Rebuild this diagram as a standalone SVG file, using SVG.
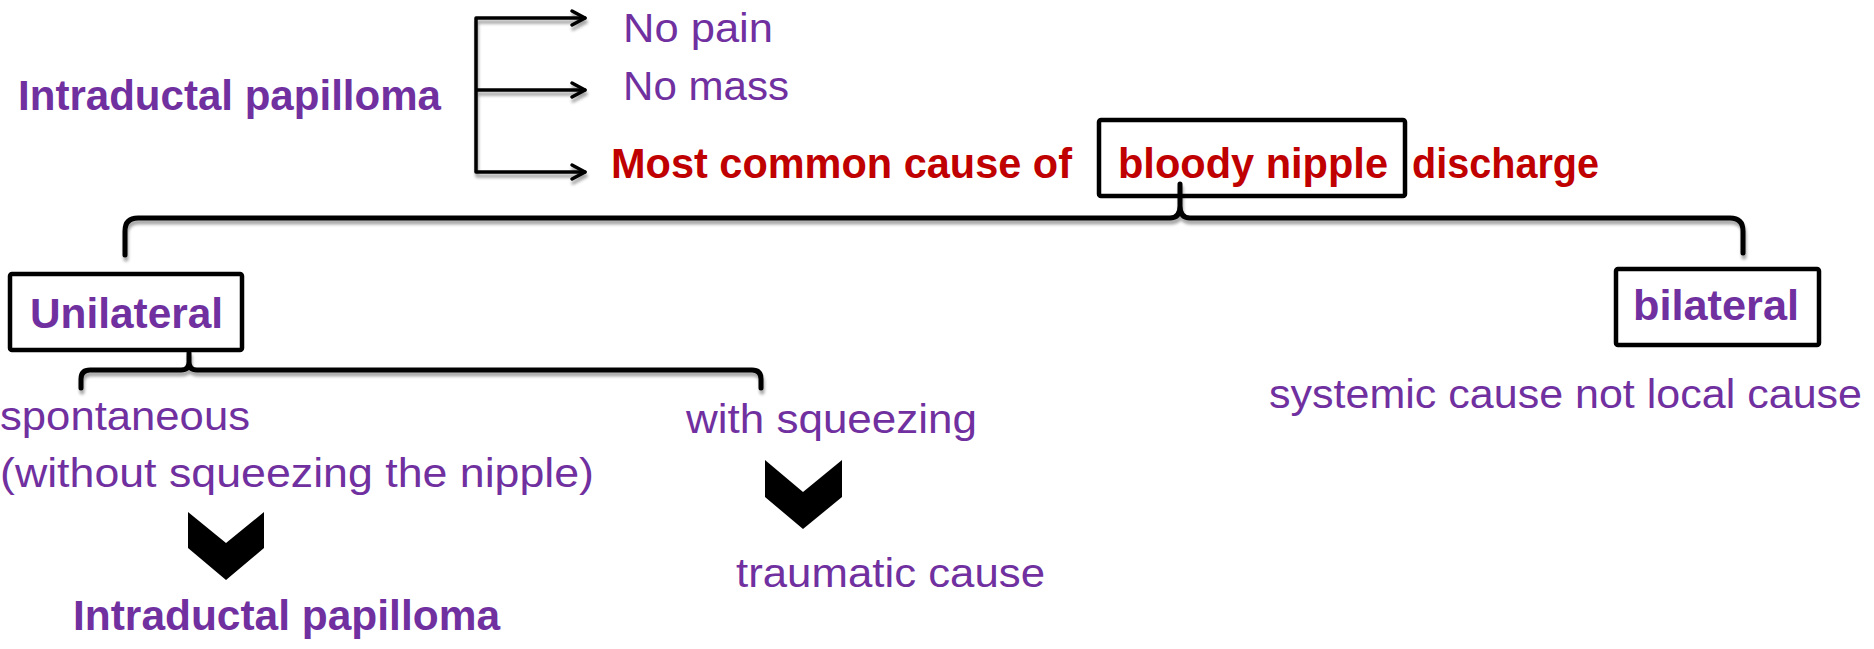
<svg xmlns="http://www.w3.org/2000/svg" width="1874" height="649" viewBox="0 0 1874 649">
<defs>
<style>
.b{font-family:"Liberation Sans",Arial,sans-serif;font-weight:bold;font-size:42px}
.r{font-family:"Liberation Sans",Arial,sans-serif;font-size:41px}
.pu{fill:#7030A0}
.rd{fill:#C00000}
.box{fill:none;stroke:#000;stroke-width:4.5}
.ln{fill:none;stroke:#000;stroke-linecap:round;stroke-linejoin:round}
.chev{fill:#000}
</style>
<filter id="sh" x="-5%" y="-50%" width="110%" height="200%">
<feDropShadow dx="1" dy="4" stdDeviation="1.5" flood-color="#000" flood-opacity="0.35"/>
</filter>
</defs>
<rect width="1874" height="649" fill="#fff"/>

<g id="connectors">
<g filter="url(#sh)">
<path class="ln" stroke-width="3.5" d="M585,18 L476,18 L476,172 L585,172 M476,90 L585,90"/>
<path class="ln" stroke-width="3.5" d="M572,11 L585,18 L572,25 M572,83 L585,90 L572,97 M572,165 L585,172 L572,179"/>
<path class="ln" stroke-width="5" d="M125,255 L125,231 Q125,218 138,218 L1170,218 Q1180,218 1180,206 L1180,184 M1180,206 Q1180,218 1190,218 L1730,218 Q1743,218 1743,231 L1743,253"/>
<path class="ln" stroke-width="5" d="M81,388 L81,379 Q81,370 90,370 L181,370 Q189,370 189,362 L189,353 M189,362 Q189,370 197,370 L752,370 Q761,370 761,379 L761,388"/>
</g>
<polygon class="chev" points="188,512 226,543 264,512 264,548 226,580 188,548"/>
<polygon class="chev" points="765,460 803,492 842,460 842,497 803,529 765,497"/>
</g>

<g id="n-intraductal-top"><text class="b pu" x="18" y="110" textLength="423" lengthAdjust="spacingAndGlyphs">Intraductal papilloma</text></g>
<g id="n-no-pain"><text class="r pu" x="623" y="42" textLength="150" lengthAdjust="spacingAndGlyphs">No pain</text></g>
<g id="n-no-mass"><text class="r pu" x="623" y="100" textLength="166" lengthAdjust="spacingAndGlyphs">No mass</text></g>
<g id="n-most-common">
<text class="b rd" x="611" y="178" textLength="461" lengthAdjust="spacingAndGlyphs">Most common cause of</text>
<rect class="box" x="1099" y="120" width="306" height="76" rx="2"/>
<text class="b rd" x="1118" y="178" textLength="270" lengthAdjust="spacingAndGlyphs">bloody nipple</text>
<text class="b rd" x="1412" y="178" textLength="187" lengthAdjust="spacingAndGlyphs">discharge</text>
</g>
<g id="n-unilateral">
<rect class="box" x="10" y="274" width="232" height="76" rx="2"/>
<text class="b pu" x="30" y="328" textLength="193" lengthAdjust="spacingAndGlyphs">Unilateral</text>
</g>
<g id="n-bilateral">
<rect class="box" x="1616" y="269" width="203" height="76" rx="2"/>
<text class="b pu" x="1633" y="320" textLength="166" lengthAdjust="spacingAndGlyphs">bilateral</text>
</g>
<g id="n-systemic"><text class="r pu" x="1269" y="408" textLength="593" lengthAdjust="spacingAndGlyphs">systemic cause not local cause</text></g>
<g id="n-spontaneous">
<text class="r pu" x="0" y="430" textLength="250" lengthAdjust="spacingAndGlyphs">spontaneous</text>
<text class="r pu" x="0" y="487" textLength="594" lengthAdjust="spacingAndGlyphs">(without squeezing the nipple)</text>
</g>
<g id="n-with-squeezing"><text class="r pu" x="686" y="433" textLength="291" lengthAdjust="spacingAndGlyphs">with squeezing</text></g>
<g id="n-intraductal-bottom"><text class="b pu" x="73" y="630" textLength="427" lengthAdjust="spacingAndGlyphs">Intraductal papilloma</text></g>
<g id="n-traumatic"><text class="r pu" x="736" y="587" textLength="309" lengthAdjust="spacingAndGlyphs">traumatic cause</text></g>
</svg>
